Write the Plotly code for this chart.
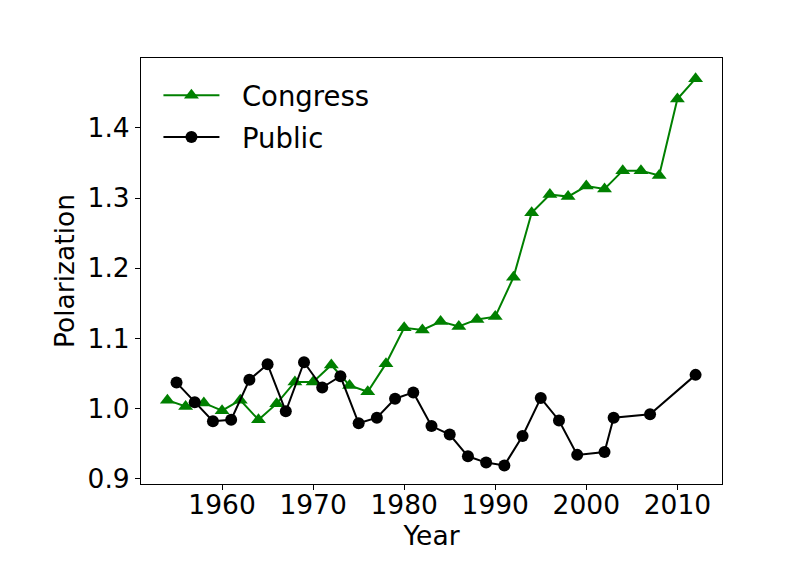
import plotly.graph_objects as go

congress_years = [1954, 1956, 1958, 1960, 1962, 1964, 1966, 1968, 1970, 1972, 1974, 1976, 1978,
                  1980, 1982, 1984, 1986, 1988, 1990, 1992, 1994, 1996, 1998, 2000, 2002, 2004,
                  2006, 2008, 2010, 2012]
congress_vals = [1.012, 1.003, 1.008, 0.997, 1.012, 0.984, 1.007, 1.038, 1.038, 1.062, 1.033, 1.024, 1.064,
                 1.115, 1.112, 1.124, 1.117, 1.127, 1.131, 1.187, 1.279, 1.305, 1.302, 1.317, 1.313, 1.339,
                 1.339, 1.332, 1.441, 1.470]

public_years = [1955, 1957, 1959, 1961, 1963, 1965, 1967, 1969, 1971, 1973, 1975, 1977, 1979, 1981,
                1983, 1985, 1987, 1989, 1991, 1993, 1995, 1997, 1999, 2002, 2003, 2007, 2012]
public_vals = [1.037, 1.009, 0.982, 0.984, 1.041, 1.063, 0.996, 1.066, 1.030, 1.046, 0.979, 0.987, 1.014, 1.023,
               0.975, 0.963, 0.932, 0.923, 0.919, 0.961, 1.015, 0.983, 0.934, 0.938, 0.987, 0.992, 1.048]

x_ticks = [1960, 1970, 1980, 1990, 2000, 2010]
y_ticks = [0.9, 1.0, 1.1, 1.2, 1.3, 1.4]

FONT = "DejaVu Sans"
FS = 26.5
NB = "\u00a0\u00a0"

fig = go.Figure()
fig.add_trace(go.Scatter(x=congress_years, y=congress_vals, name=NB + "Congress", mode="lines+markers",
                         legendgroup="c",
                         line=dict(color="#008000", width=2),
                         marker=dict(symbol="triangle-up", size=13, color="#008000")))
fig.add_trace(go.Scatter(x=public_years, y=public_vals, name=NB + "Public", mode="lines+markers",
                         legendgroup="p",
                         line=dict(color="black", width=2),
                         marker=dict(symbol="circle", size=12, color="black")))

axis_common = dict(showline=True, linecolor="black", linewidth=1, mirror=True, showgrid=False,
                   zeroline=False, ticks="outside", ticklen=5, tickwidth=1, tickcolor="black",
                   tickfont=dict(family=FONT, size=FS, color="black"))

fig.update_layout(
    width=800, height=569,
    margin=dict(l=141, r=78, t=58, b=85),
    paper_bgcolor="white", plot_bgcolor="white",
    font=dict(family=FONT, size=FS, color="black"),
    xaxis=dict(range=[1951.1, 2014.9], tickvals=x_ticks, ticktext=[str(v) for v in x_ticks],
               ticklabelstandoff=-8,
               title=dict(text="Year", font=dict(family=FONT, size=FS), standoff=5), **axis_common),
    yaxis=dict(range=[0.8925, 1.4995], tickvals=y_ticks, ticktext=[f"{v:.1f}" for v in y_ticks],
               title=dict(text="Polarization", font=dict(family=FONT, size=FS), standoff=5), **axis_common),
    legend=dict(x=0.03, y=0.97, xanchor="left", yanchor="top", bgcolor="rgba(0,0,0,0)",
                font=dict(family=FONT, size=27.5, color="black"), itemwidth=56,
                traceorder="grouped", tracegroupgap=3),
    showlegend=True,
)

fig.write_html("out.html")
